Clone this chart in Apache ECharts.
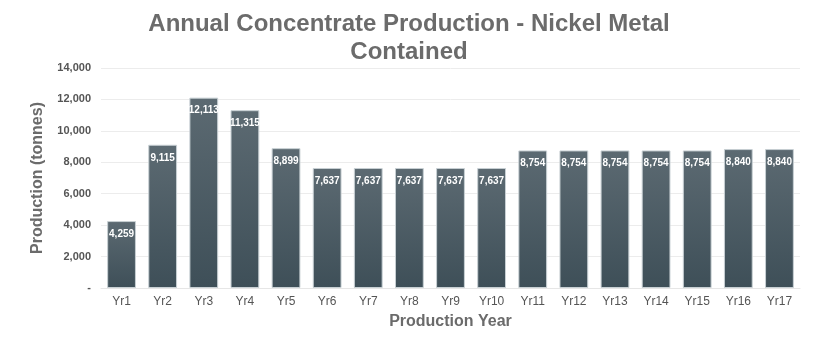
<!DOCTYPE html>
<html><head><meta charset="utf-8">
<script src="https://cdn.jsdelivr.net/npm/echarts@6/dist/echarts.min.js"></script>
<style>html,body{margin:0;padding:0;background:#fff}#c{width:818px;height:355px}</style>
</head><body><div id="c"></div>
<script>
var categories = ['Yr1','Yr2','Yr3','Yr4','Yr5','Yr6','Yr7','Yr8','Yr9','Yr10','Yr11','Yr12','Yr13','Yr14','Yr15','Yr16','Yr17'];
var production = [4259,9115,12113,11315,8899,7637,7637,7637,7637,7637,8754,8754,8754,8754,8754,8840,8840];
var yTicks = [0,2000,4000,6000,8000,10000,12000,14000];

function fmt(v){ return v === 0 ? '-' : v.toLocaleString('en-US'); }
var chart = echarts.init(document.getElementById('c'));
chart.setOption({
  animation:false,
  textStyle:{fontFamily:'Liberation Sans, Arial, sans-serif'},
  title:{text:'Annual Concentrate Production - Nickel Metal\nContained', left:404, textAlign:'center', top:5,
    textStyle:{fontSize:24, fontWeight:'bold', color:'#6b6b6b', lineHeight:28, fontFamily:'Liberation Sans, Arial, sans-serif'}},
  grid:{left:101, right:18, top:68, bottom:67},
  xAxis:{type:'category', data:categories, name:'Production Year', nameLocation:'middle', nameGap:26,
    nameTextStyle:{fontSize:16, fontWeight:'bold', color:'#6b6b6b'},
    axisLine:{show:true, lineStyle:{color:'#e6e6e6'}}, axisTick:{show:false},
    axisLabel:{fontSize:12, color:'#555', margin:8}},
  yAxis:{type:'value', min:yTicks[0], max:yTicks[yTicks.length-1], interval:2000,
    name:'Production (tonnes)', nameLocation:'middle', nameGap:55,
    nameTextStyle:{fontSize:16, fontWeight:'bold', color:'#6b6b6b'},
    axisLine:{show:false}, axisTick:{show:false},
    splitLine:{lineStyle:{color:'#ececec'}},
    axisLabel:{fontSize:11, fontWeight:'bold', color:'#555', margin:10, formatter:fmt}},
  series:[{type:'bar', data:production, barWidth:'70%',
    itemStyle:{borderColor:'#c8d0d4', borderWidth:1,
      color:new echarts.graphic.LinearGradient(0,0,0,1,[{offset:0,color:'#5c6a72'},{offset:1,color:'#3e4f58'}])},
    label:{show:true, position:'insideTop', distance:8, color:'#fff', fontSize:10, fontWeight:'bold', formatter:function(p){return fmt(p.value);}}}]
});
</script></body></html>
